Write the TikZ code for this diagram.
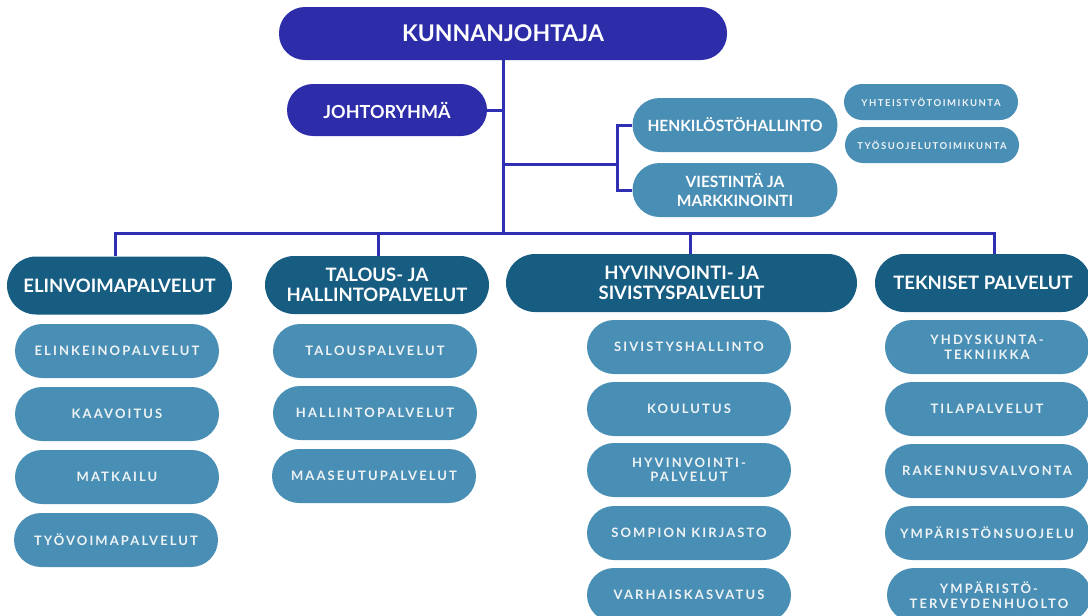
\documentclass[tikz,border=0pt]{standalone}
\usepackage{fontspec}
\setmainfont{Lato}
\newfontfamily\spaced[LetterSpace=16]{Lato Bold}
\definecolor{navy}{HTML}{2D2DAA}
\definecolor{headc}{HTML}{175D82}
\definecolor{itemc}{HTML}{498EB4}
\definecolor{linec}{HTML}{2F2FB4}
\definecolor{softw}{HTML}{EEF3F6}
\begin{document}
\begin{tikzpicture}[x=1pt,y=-1pt,
  pillbase/.style={inner sep=0pt, align=center, text=white},
  bossbox/.style={pillbase, fill=navy, minimum width=448pt, minimum height=53pt, rounded corners=26pt, font=\bfseries\fontsize{23}{26}\selectfont},
  jrbox/.style={pillbase, fill=navy, minimum width=200pt, minimum height=52pt, rounded corners=26pt, font=\bfseries\fontsize{18}{20}\selectfont},
  staffbox/.style={pillbase, fill=itemc, minimum width=205pt, minimum height=54pt, rounded corners=27pt, font=\bfseries\fontsize{15.5}{19}\selectfont},
  smallbox/.style={pillbase, fill=itemc, minimum width=174pt, minimum height=36pt, rounded corners=18pt, text=softw, font=\spaced\fontsize{9.5}{11}\selectfont},
  headbox/.style={pillbase, fill=headc, minimum height=58pt, rounded corners=29pt, font=\bfseries\fontsize{18.5}{20.5}\selectfont},
  subbox/.style={pillbase, fill=itemc, minimum width=204pt, minimum height=54pt, rounded corners=27pt, text=softw, font=\spaced\fontsize{13}{14.5}\selectfont},
  conn/.style={draw=linec, line width=3pt}
]
\useasboundingbox (0,0) rectangle (1088,616);
\clip (0,0) rectangle (1088,616);

% top
\node[bossbox] (boss) at (503,33.5) {KUNNANJOHTAJA};
\node[jrbox] (jr) at (387,110) {JOHTORYHMÄ};
\node[staffbox] (hr) at (735,125) {HENKILÖSTÖHALLINTO};
\node[staffbox] (vm) at (735,190) {VIESTINTÄ JA\\MARKKINOINTI};
\node[smallbox] (yt) at (931,102) {YHTEISTYÖTOIMIKUNTA};
\node[smallbox] (ts) at (932,145) {TYÖSUOJELUTOIMIKUNTA};

% heads
\node[headbox, minimum width=225pt] (h1) at (119.5,285.5) {ELINVOIMAPALVELUT};
\node[headbox, minimum width=224pt] (h2) at (377,285) {TALOUS- JA\\HALLINTOPALVELUT};
\node[headbox, minimum width=351pt] (h3) at (681.5,283) {HYVINVOINTI- JA\\SIVISTYSPALVELUT};
\node[headbox, minimum width=216pt] (h4) at (983,283) {TEKNISET PALVELUT};

% column 1
\node[subbox] (a1) at (117,351) {ELINKEINOPALVELUT};
\node[subbox] (a2) at (117,414) {KAAVOITUS};
\node[subbox] (a3) at (117,477) {MATKAILU};
\node[subbox] (a4) at (116,540) {TYÖVOIMAPALVELUT};
% column 2
\node[subbox] (b1) at (375,351) {TALOUSPALVELUT};
\node[subbox] (b2) at (375,413) {HALLINTOPALVELUT};
\node[subbox] (b3) at (374,476) {MAASEUTUPALVELUT};
% column 3
\node[subbox] (c1) at (689,347) {SIVISTYSHALLINTO};
\node[subbox] (c2) at (689,409) {KOULUTUS};
\node[subbox] (c3) at (689,470) {HYVINVOINTI-\\PALVELUT};
\node[subbox] (c4) at (689,533) {SOMPION KIRJASTO};
\node[subbox] (c5) at (689,595) {VARHAISKASVATUS};
% column 4
\node[subbox] (d1) at (987,347) {YHDYSKUNTA-\\TEKNIIKKA};
\node[subbox] (d2) at (987,409) {TILAPALVELUT};
\node[subbox] (d3) at (987,471) {RAKENNUSVALVONTA};
\node[subbox] (d4) at (987,533) {YMPÄRISTÖNSUOJELU};
\node[subbox] (d5) at (989,595) {YMPÄRISTÖ-\\TERVEYDENHUOLTO};

% connectors
\coordinate (busM) at (503,233);
\coordinate (busL) at (115,233);
\coordinate (busR) at (994,233);
\coordinate (br) at (617,164);
\coordinate (d2x) at (378,233);
\coordinate (d3x) at (690,233);
\draw[conn] (boss.south) -- (busM);
\draw[conn] (jr.east) -- (jr.east -| busM);
\draw[conn] (br -| busM) -- (br);
\draw[conn] (hr.west) -- (hr.west -| br) -- (vm.west -| br) -- (vm.west);
\draw[conn] (busL |- h1.north) -- (busL) -- (busR) -- (busR |- h4.north);
\draw[conn] (d2x) -- (d2x |- h2.north);
\draw[conn] (d3x) -- (d3x |- h3.north);
\end{tikzpicture}
\end{document}
